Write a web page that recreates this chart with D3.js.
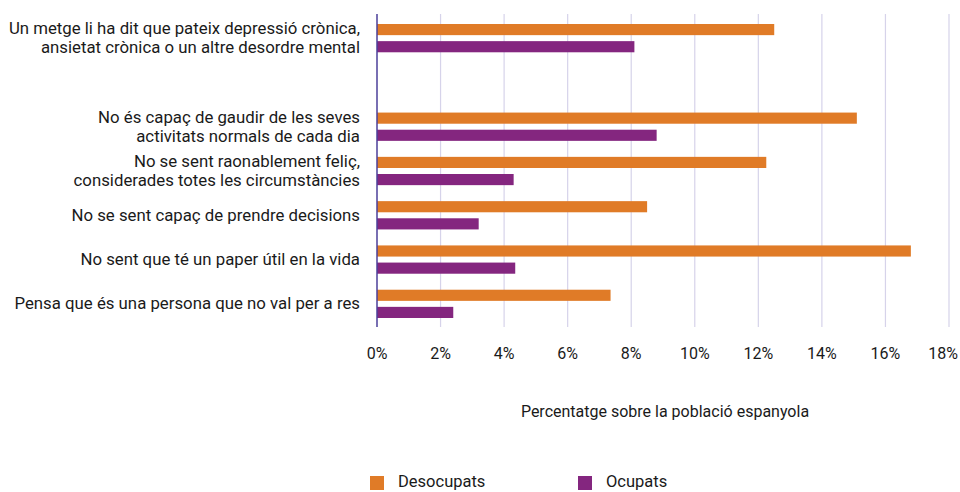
<!DOCTYPE html>
<html>
<head>
<meta charset="utf-8">
<script src="https://cdn.jsdelivr.net/npm/d3@7"></script>
<style>
  body { margin: 0; background: #fff; }
  text { font-family: Roboto, "Liberation Sans", Arial, sans-serif; fill: #1a1a1a; }
</style>
</head>
<body>
<div id="plot"></div>
<script>
// categories (the empty one leaves the gap after the first row)
const categories = [
  ["Un metge li ha dit que pateix depressió crònica,", "ansietat crònica o un altre desordre mental"],
  [],
  ["No és capaç de gaudir de les seves", "activitats normals de cada dia"],
  ["No se sent raonablement feliç,", "considerades totes les circumstàncies"],
  ["No se sent capaç de prendre decisions"],
  ["No sent que té un paper útil en la vida"],
  ["Pensa que és una persona que no val per a res"]
];
const desocupats = [12.5, null, 15.1, 12.25, 8.5, 16.8, 7.35];
const ocupats    = [8.1, null, 8.8, 4.3, 3.2, 4.35, 2.4];
const xTicks = [0, 2, 4, 6, 8, 10, 12, 14, 16, 18];
const seriesNames = ["Desocupats", "Ocupats"];
const axisTitle = "Percentatge sobre la població espanyola";

window.addEventListener("load", main);

function main(){
  const width = 960, height = 492;
  const colors = ["#e07b27", "#84267f"];

  let svg = d3.select("#plot").append("svg")
    .attr("width", width)
    .attr("height", height);

  let x = d3.scaleLinear().domain([0, 18]).range([377, 949]);
  let y = d3.scaleBand().domain(d3.range(categories.length)).range([16, 326]);
  let yInner = d3.scaleBand().domain([0, 1]).range([8, y.bandwidth() - 8]).paddingInner(0.35);

  // gridlines
  svg.append("g").attr("id", "grid")
    .selectAll("line")
    .data(xTicks.slice(1))
    .join("line")
      .attr("x1", d => x(d)).attr("x2", d => x(d))
      .attr("y1", 14).attr("y2", 327)
      .attr("stroke", "#d6d3ea")
      .attr("stroke-width", 1.2);

  // bars
  const series = [desocupats, ocupats];
  series.forEach((vals, s) => {
    svg.append("g")
      .selectAll("rect")
      .data(vals.map((v, i) => ({v, i})).filter(d => d.v != null))
      .join("rect")
        .attr("x", x(0))
        .attr("y", d => y(d.i) + yInner(s))
        .attr("width", d => x(d.v) - x(0))
        .attr("height", yInner.bandwidth())
        .attr("fill", colors[s]);
  });

  // y axis line
  svg.append("line")
    .attr("x1", x(0)).attr("x2", x(0))
    .attr("y1", 14).attr("y2", 327)
    .attr("stroke", "#4b3f9a")
    .attr("stroke-width", 1.5);

  // category labels
  let labels = svg.append("g").attr("id", "labels")
    .selectAll("text")
    .data(categories)
    .join("text")
      .attr("text-anchor", "end")
      .attr("font-size", 16.8)
      .attr("x", 360)
      .attr("y", (d, i) => y(i) + y.bandwidth() / 2);
  labels.selectAll("tspan")
    .data(d => d.map((line, j) => ({line, j, n: d.length})))
    .join("tspan")
      .attr("x", 360)
      .attr("dy", d => d.j === 0 ? (5.5 - (d.n - 1) * 9.5) + "px" : "19px")
      .text(d => d.line);

  // x tick labels
  svg.append("g")
    .selectAll("text")
    .data(xTicks)
    .join("text")
      .attr("x", (d, i) => i === xTicks.length - 1 ? width - 2 : x(d))
      .attr("y", 359)
      .attr("text-anchor", (d, i) => i === xTicks.length - 1 ? "end" : "middle")
      .attr("font-size", 16)
      .text(d => d + "%");

  svg.append("text")
    .attr("x", 665).attr("y", 417)
    .attr("text-anchor", "middle")
    .attr("font-size", 16)
    .text(axisTitle);

  // legend
  let legend = svg.append("g")
    .selectAll("g")
    .data(seriesNames)
    .join("g")
      .attr("transform", (d, i) => `translate(${370 + i * 208},476)`);
  legend.append("rect")
    .attr("width", 14).attr("height", 14)
    .attr("fill", (d, i) => colors[i]);
  legend.append("text")
    .attr("x", 28).attr("y", 11)
    .attr("font-size", 16.5)
    .text(d => d);
}
</script>
</body>
</html>
